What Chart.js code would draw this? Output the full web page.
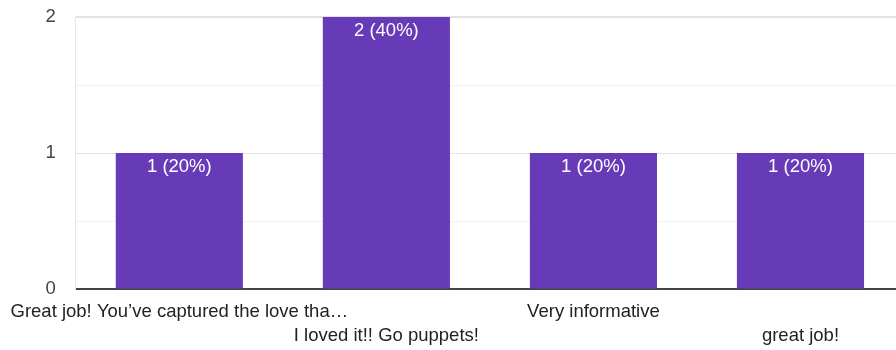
<!DOCTYPE html>
<html>
<head>
<meta charset="utf-8">
<script src="https://cdn.jsdelivr.net/npm/chart.js@4/dist/chart.umd.min.js"></script>
<style>
  html, body { margin: 0; padding: 0; background: #fff; overflow: hidden; }
  #wrap { width: 914px; height: 364px; position: relative; left: -10px; top: -14px; }
</style>
</head>
<body>
<div id="wrap"><canvas id="myChart"></canvas></div>
<script>
// відповіді та кількість
const answers = [
  'Great job! You\u2019ve captured the love tha\u2026',
  'I loved it!! Go puppets!',
  'Very informative',
  'great job!'
];
const counts = [1, 2, 1, 1];
const percents = [20, 40, 20, 20];
const yTicks = [0, 1, 2];

const FONT = '"Liberation Sans", Arial, sans-serif';
const FSIZE = 18.5;

// підписи всередині стовпців: "1 (20%)"
const barLabels = {
  id: 'barLabels',
  afterDatasetsDraw(chart) {
    const ctx = chart.ctx;
    const meta = chart.getDatasetMeta(0);
    ctx.save();
    ctx.fillStyle = '#ffffff';
    ctx.font = FSIZE + 'px ' + FONT;
    ctx.textAlign = 'center';
    ctx.textBaseline = 'middle';
    meta.data.forEach((bar, i) => {
      ctx.fillText(`${counts[i]} (${percents[i]}%)`, bar.x, bar.y + 14);
    });
    ctx.restore();
  }
};

const ctx = document.getElementById('myChart').getContext('2d');
const myChart = new Chart(ctx, {
  type: 'bar',
  data: {
    labels: answers,
    datasets: [{
      data: counts,
      backgroundColor: '#673ab7',
      borderWidth: 0,
      categoryPercentage: 1,
      barPercentage: 0.614
    }]
  },
  options: {
    responsive: true,
    maintainAspectRatio: false,
    animation: false,
    layout: { padding: { top: 2, right: 0, bottom: 0, left: 0 } },
    plugins: { legend: { display: false }, tooltip: { enabled: false } },
    scales: {
      x: {
        grid: { display: false, drawTicks: false },
        border: { color: '#444', width: 2 },
        afterFit: s => { s.height = 61; },
        ticks: {
          autoSkip: false,
          maxRotation: 0,
          minRotation: 0,
          padding: 11,
          color: '#222',
          font: { family: FONT, size: FSIZE, lineHeight: 1.3 },
          // два ряди підписів, щоб не налізали
          callback: (v, i) => i % 2 ? ['', answers[i]] : [answers[i], '']
        }
      },
      y: {
        min: 0,
        max: 2,
        afterFit: s => { s.width = 76; },
        border: { color: '#e6e6e6', width: 1 },
        grid: {
          drawTicks: false,
          color: c => Number.isInteger(c.tick.value) ? '#e3e3e3' : '#f1f1f1',
          lineWidth: c => c.tick.value === 2 ? 2 : 1
        },
        ticks: {
          stepSize: 0.5,
          padding: 20,
          color: '#444',
          font: { family: FONT, size: FSIZE },
          callback: v => yTicks.includes(v) ? String(v) : ''
        }
      }
    }
  },
  plugins: [barLabels]
});
</script>
</body>
</html>
